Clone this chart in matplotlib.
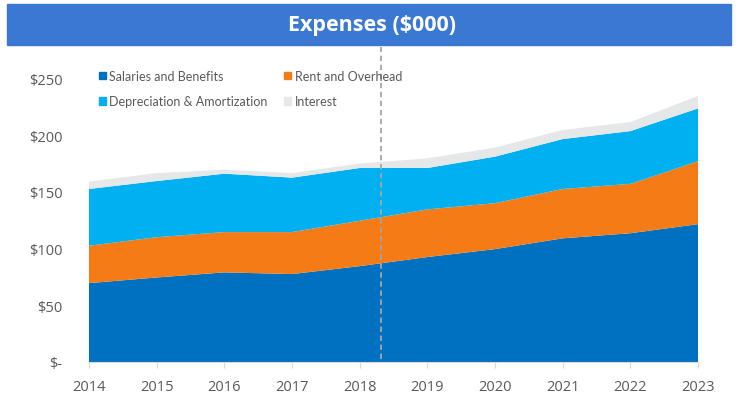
import numpy as np
import matplotlib
matplotlib.use('Agg')
import matplotlib.pyplot as plt
from matplotlib.patches import Rectangle, Patch

years = [2014, 2015, 2016, 2017, 2018, 2019, 2020, 2021, 2022, 2023]
salaries = [69.5, 74.5, 79, 77.5, 84.5, 92.5, 99.5, 109, 113.5, 121.5]
rent = [33, 35.5, 35.5, 37, 40, 42, 40.5, 43.5, 43.5, 55.5]
depreciation = [50, 49.5, 51.5, 48, 46.5, 36.5, 41, 44, 46.5, 46.5]
interest = [6.5, 7, 3.5, 4, 4, 8.5, 8, 8, 8, 11]
series_names = ['Salaries and Benefits', 'Rent and Overhead',
                'Depreciation & Amortization', 'Interest']
y_ticks = [0, 50, 100, 150, 200, 250]
y_labels = ['$-', '$50', '$100', '$150', '$200', '$250']
divider_year = 2018.31

colors = ['#0070c0', '#f47b16', '#00b0f0', '#e6e7e9']
plt.rcParams['font.family'] = ['Open Sans', 'DejaVu Sans']

fig = plt.figure(figsize=(7.43, 4.14), dpi=100)

# title banner
fig.patches.append(Rectangle((7 / 743, 368 / 414), 724 / 743, 41 / 414,
                             transform=fig.transFigure, color='#3a78d4', zorder=0))
fig.text(0.5, (414 - 26) / 414, 'Expenses ($000)', ha='center', va='center',
         color='white', fontsize=15.5, fontweight='bold')

ax = fig.add_axes([89 / 743, 51 / 414, 609 / 743, 312 / 414])
ax.stackplot(years, salaries, rent, depreciation, interest, colors=colors,
             labels=series_names, linewidth=0)

ax.axvline(divider_year, ymin=0.01, ymax=1.01, color='#a6a6a6', linestyle='--',
           linewidth=1.3, dashes=(3, 2), clip_on=False)

ax.set_xlim(years[0], years[-1])
ax.set_ylim(0, 275)
ax.set_xticks(years)
ax.set_yticks(y_ticks)
ax.set_yticklabels(y_labels)
for s in ['top', 'right', 'left']:
    ax.spines[s].set_visible(False)
ax.spines['bottom'].set_color('#d9d9d9')
ax.tick_params(axis='y', length=0, pad=19, labelsize=10.5, labelcolor='#595959')
ax.tick_params(axis='x', length=4, color='#d9d9d9', pad=8, labelsize=10.5,
               labelcolor='#595959')

handles = [Patch(color=c) for c in colors]
ax.legend([handles[0], handles[2], handles[1], handles[3]],
          [series_names[0], series_names[2], series_names[1], series_names[3]],
          ncol=2, loc='upper left', bbox_to_anchor=(0.0164, 0.9359), frameon=False,
          borderpad=0, borderaxespad=0,
          handlelength=0.56, handleheight=0.56, handletextpad=0.25,
          columnspacing=1.36, labelspacing=1.06, labelcolor='#595959',
          prop={'family': ['Lato', 'DejaVu Sans'], 'size': 9})

fig.savefig('out.png', dpi=100)
